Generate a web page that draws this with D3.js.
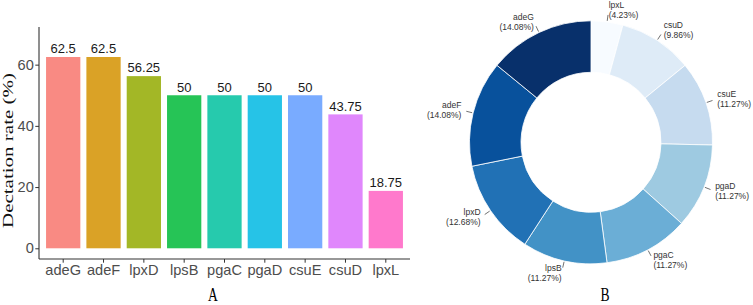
<!DOCTYPE html>
<html>
<head>
<meta charset="utf-8">
<script src="https://cdn.jsdelivr.net/npm/d3@7"></script>
<style>
  body { margin: 0; background: #fff; }
  svg { display: block; }
</style>
</head>
<body>
<div id="chart"></div>
<script>
const width = 753, height = 305;

// panel A: detection rate per gene
const genes = ["adeG", "adeF", "lpxD", "lpsB", "pgaC", "pgaD", "csuE", "csuD", "lpxL"];
const rates = [62.5, 62.5, 56.25, 50, 50, 50, 50, 43.75, 18.75];
const rateLabels = ["62.5", "62.5", "56.25", "50", "50", "50", "50", "43.75", "18.75"];
const barColors = ["#F8766D", "#D39200", "#93AA00", "#00BA38", "#00C19F", "#00B9E3", "#619CFF", "#DB72FB", "#FF61C3"];
const yTicks = [0, 20, 40, 60];

// panel B: share of each gene (clockwise from top)
const donutGenes = ["lpxL", "csuD", "csuE", "pgaD", "pgaC", "lpsB", "lpxD", "adeF", "adeG"];
const donutPct = [4.23, 9.86, 11.27, 11.27, 11.27, 11.27, 12.68, 14.08, 14.08];
const donutColors = ["#f7fbff", "#deebf7", "#c6dbef", "#9ecae1", "#6baed6", "#4292c6", "#2171b5", "#08519c", "#08306b"];

const sans = "'Liberation Sans', Arial, sans-serif";
const serif = "'Liberation Serif', 'Times New Roman', serif";

const svg = d3.select("#chart").append("svg")
    .attr("width", width)
    .attr("height", height);

// ---- A: bar chart ----
const x = d3.scaleBand()
    .domain(genes)
    .range([39, 410])
    .paddingInner(0.15)
    .paddingOuter(0.175);

const y = d3.scaleLinear()
    .domain([-3.5, 72.3])
    .range([259, 27]);

svg.selectAll("rect.bar")
    .data(genes)
    .join("rect")
    .attr("class", "bar")
    .attr("x", d => x(d))
    .attr("width", x.bandwidth())
    .attr("y", (d, i) => y(rates[i]))
    .attr("height", (d, i) => y(0) - y(rates[i]))
    .attr("fill", (d, i) => barColors[i])
    .attr("fill-opacity", 0.85);

svg.selectAll("text.val")
    .data(genes)
    .join("text")
    .attr("class", "val")
    .attr("x", d => x(d) + x.bandwidth() / 2)
    .attr("y", (d, i) => y(rates[i]) - 3.7)
    .attr("text-anchor", "middle")
    .attr("font-family", sans)
    .attr("font-size", 13)
    .attr("fill", "#1a1a1a")
    .text((d, i) => rateLabels[i]);

const yAxis = svg.append("g")
    .attr("transform", "translate(39,0)")
    .call(d3.axisLeft(y).tickValues(yTicks).tickSize(3.7).tickPadding(1.5));
yAxis.select(".domain").attr("stroke", "#333").attr("d", `M0,${y.range()[1]}V${y.range()[0]}`).attr("stroke-width", 1.1);
yAxis.selectAll(".tick line").attr("stroke", "#333");
yAxis.selectAll(".tick text")
    .attr("font-family", sans)
    .attr("font-size", 14.6)
    .attr("fill", "#4D4D4D");

const xAxis = svg.append("g")
    .attr("transform", "translate(0,259)")
    .call(d3.axisBottom(x).tickSize(3.7).tickPadding(2));
xAxis.select(".domain").attr("stroke", "#333").attr("d", `M${x.range()[0]},0H${x.range()[1]}`).attr("stroke-width", 1.1);
xAxis.selectAll(".tick line").attr("stroke", "#333");
xAxis.selectAll(".tick text")
    .attr("font-family", sans)
    .attr("font-size", 14.6)
    .attr("fill", "#4D4D4D");

// y title: glyphs stretched along the reading direction as in the figure
svg.append("text")
    .attr("transform", "translate(13,150.5) rotate(-90)")
    .attr("text-anchor", "middle")
    .attr("font-family", serif)
    .attr("font-size", 14.5)
    .attr("fill", "#111")
    .attr("textLength", 155)
    .attr("lengthAdjust", "spacingAndGlyphs")
    .text("Dectation rate (%)");

svg.append("text")
    .attr("transform", "translate(213,301) scale(0.8,1.05)")
    .attr("text-anchor", "middle")
    .attr("font-family", serif)
    .attr("font-size", 17)
    .attr("fill", "#000")
    .text("A");

// ---- B: donut ----
const cx = 591, cy = 142.3, R = 121.5, r0 = 70;

const pie = d3.pie().sort(null).value(d => d);
const arcs = pie(donutPct);
const arc = d3.arc().innerRadius(r0).outerRadius(R);

const donut = svg.append("g").attr("transform", `translate(${cx},${cy})`);

donut.selectAll("path")
    .data(arcs)
    .join("path")
    .attr("d", arc)
    .attr("fill", (d, i) => donutColors[i])
    .attr("stroke", "#fff")
    .attr("stroke-width", 0.8);

const midA = d => (d.startAngle + d.endAngle) / 2;

donut.selectAll("line.lead")
    .data(arcs)
    .join("line")
    .attr("class", "lead")
    .attr("x1", d => Math.sin(midA(d)) * (R + 1))
    .attr("y1", d => -Math.cos(midA(d)) * (R + 1))
    .attr("x2", d => Math.sin(midA(d)) * (R + 7))
    .attr("y2", d => -Math.cos(midA(d)) * (R + 7))
    .attr("stroke", "#333")
    .attr("stroke-width", 0.7);

const labs = donut.selectAll("text.lab")
    .data(arcs)
    .join("text")
    .attr("class", "lab")
    .attr("font-family", sans)
    .attr("font-size", 8.5)
    .attr("fill", "#333")
    .attr("text-anchor", d => Math.sin(midA(d)) >= 0 ? "start" : "end");

labs.each(function (d, i) {
    const a = midA(d);
    const lx = Math.sin(a) * (R + 12);
    const ly = -Math.cos(a) * (R + 12);
    const t = d3.select(this);
    t.append("tspan").attr("x", lx).attr("y", ly - 2).text(donutGenes[i]);
    t.append("tspan").attr("x", lx).attr("y", ly + 8).text(`(${donutPct[i].toFixed(2)}%)`);
});

svg.append("text")
    .attr("transform", "translate(605,301) scale(0.8,1.05)")
    .attr("text-anchor", "middle")
    .attr("font-family", serif)
    .attr("font-size", 17)
    .attr("fill", "#000")
    .text("B");
</script>
</body>
</html>
